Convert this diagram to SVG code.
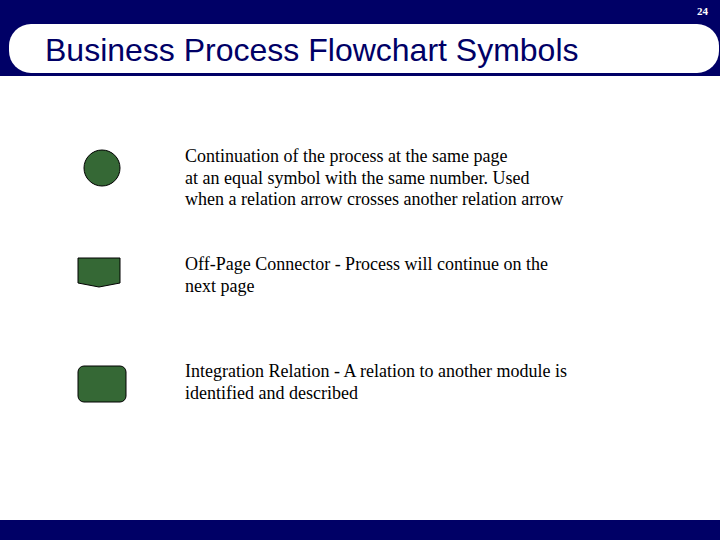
<svg xmlns="http://www.w3.org/2000/svg" width="720" height="540" viewBox="0 0 720 540">
<style>
.sym{fill:#356835;stroke:#000;stroke-width:1}
.desc{font-family:"Liberation Serif","Times New Roman",serif;font-size:18px;fill:#000}
</style>
<rect x="0" y="0" width="720" height="540" fill="#fff"/>
<g id="header">
<rect x="0" y="0" width="720" height="76" fill="#000066"/>
<rect x="9" y="24" width="710" height="49" rx="22" ry="22" fill="#fff"/>
<text x="45" y="61" font-family="Liberation Sans, Arial, sans-serif" font-size="32" fill="#000066">Business Process Flowchart Symbols</text>
<text x="708" y="15" text-anchor="end" font-family="Liberation Serif, serif" font-size="11" font-weight="bold" fill="#fff">24</text>
</g>
<rect id="footer" x="0" y="520" width="720" height="20" fill="#000066"/>
<g id="connector-symbol">
<circle class="sym" cx="102" cy="168" r="18"/>
<text class="desc" x="185" y="162">Continuation of the process at the same page</text>
<text class="desc" x="185" y="184">at an equal symbol with the same number. Used</text>
<text class="desc" x="185" y="205">when a relation arrow crosses another relation arrow</text>
</g>
<g id="offpage-symbol">
<path class="sym" d="M78,258 H120 V283 L99,287 L78,283 Z"/>
<text class="desc" x="185" y="270">Off-Page Connector - Process will continue on the</text>
<text class="desc" x="185" y="292">next page</text>
</g>
<g id="integration-symbol">
<rect class="sym" x="78" y="366" width="48" height="36" rx="6" ry="6"/>
<text class="desc" x="185" y="377">Integration Relation - A relation to another module is</text>
<text class="desc" x="185" y="399">identified and described</text>
</g>
<g id="connectors"/>
</svg>
